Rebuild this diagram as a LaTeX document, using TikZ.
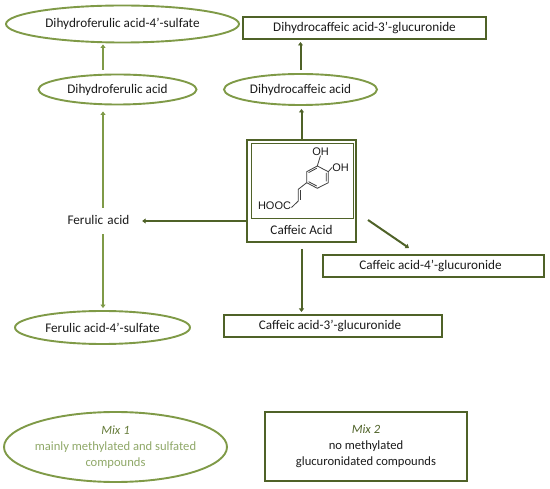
\documentclass[tikz,border=0pt]{standalone}
\usepackage{fontspec}
\setmainfont{Carlito}
\newfontfamily\chemfont{Liberation Sans}
\usetikzlibrary{shapes.geometric,arrows.meta,positioning}
\definecolor{lgreen}{HTML}{7F9A47}
\definecolor{dgreen}{HTML}{4F6228}
\definecolor{ltext}{HTML}{8FA868}
\definecolor{ink}{HTML}{1A1A1A}
\tikzset{
  every node/.style={font=\fontsize{13.2}{16}\selectfont,text=ink,inner sep=0pt,align=center},
  mixtext/.style={font=\fontsize{12.6}{16}\selectfont},
  lell/.style={draw=lgreen,line width=1.9pt,ellipse},
  dbox/.style={draw=dgreen,line width=2pt,rectangle},
  larr/.style={draw=lgreen,line width=2pt,-{Triangle[width=5pt,length=3.5pt]}},
  darr/.style={draw=dgreen,line width=2pt,-{Triangle[width=5pt,length=3.5pt]}},
  bond/.style={draw=ink!85,line width=.8pt},
  chem/.style={font=\fontsize{11}{11}\selectfont\chemfont,text=ink}
}
\begin{document}
\begin{tikzpicture}[x=1pt,y=-1pt]
\useasboundingbox (0,0) rectangle (550,489);
\node[lell,minimum width=233pt,minimum height=37pt] (dfs) at (122.5,24) {Dihydroferulic acid-4’-sulfate};
\node[lell,minimum width=158pt,minimum height=30pt] (dfa) at (117.5,89.5) {Dihydroferulic acid};
\node[lell,minimum width=153pt,minimum height=31pt] (dca) at (300.5,89.5) {Dihydrocaffeic acid};
\node[dbox,minimum width=243pt,minimum height=22pt] (dcg) at (364.5,28) {Dihydrocaffeic acid-3’-glucuronide};
\node[dbox,minimum width=109pt,minimum height=102pt] (ca) at (301.5,191) {};
\node[draw=dgreen,line width=.8pt,minimum width=102pt,minimum height=75pt] (inner) at (302,180.5) {};
\node (calabel) at (301.5,230) {Caffeic Acid};
\node[minimum width=78pt,minimum height=26pt,text width=78pt,align=left] (fa) at (103,221) {\hspace*{3.5pt}\raisebox{3pt}{Ferulic acid}};
\node[lell,minimum width=175pt,minimum height=33pt] (fas) at (102.5,327.5) {Ferulic acid-4’-sulfate};
\node[dbox,minimum width=221pt,minimum height=22pt] (c4g) at (433.5,266) {\hspace*{-6pt}Caffeic acid-4’-glucuronide};
\node[dbox,minimum width=218pt,minimum height=22pt] (c3g) at (333,326) {\hspace*{-6pt}Caffeic acid-3’-glucuronide};
\node[lell,minimum width=223pt,minimum height=70pt] (mix1) at (115.5,447) {};
\node[mixtext,text=ltext] (mix1t) at (mix1) {\textit{\textcolor{lgreen!80!black}{Mix 1}}\\mainly methylated and sulfated\\compounds};
\node[dbox,mixtext,minimum width=202pt,minimum height=69pt] (mix2) at (366,446.5) {\textit{\textcolor{dgreen}{Mix 2}}\\no methylated\\glucuronidated compounds};
% connectors
\draw[larr,shorten >=1pt] (fa |- dfa.north) ++(0,-4) -- (fa |- dfs.south);
\draw[larr,shorten >=6pt] (fa.north) -- (fa |- dfa.south);
\draw[larr,shorten >=2pt] (fa.south) -- (fa |- fas.north);
\draw[darr,shorten >=2pt] (dca.north) ++(0,-3) -- (dca |- dcg.south);
\draw[darr,shorten >=3pt] (ca.north) -- (ca |- dca.south);
\draw[darr] (ca.west |- fa) -- (fa.east);
\draw[darr,shorten <=6pt,shorten >=2pt] (ca.south) -- (ca |- c3g.north);
\coordinate (c4start) at (368,220);
\coordinate (c4end) at (409,248);
\draw[darr] (c4start) -- (c4end);
% molecule
\coordinate (r1) at (317.3,166);
\coordinate (r2) at (328.3,171.7);
\coordinate (r3) at (328.3,182.7);
\coordinate (r4) at (317.3,188.3);
\coordinate (r5) at (306.7,182.7);
\coordinate (r6) at (306.7,171.7);
\coordinate (c1) at (298.3,189.3);
\coordinate (c2) at (298.3,201);
\coordinate (c3) at (291.5,207.5);
\draw[bond] (r1)--(r2)--(r3)--(r4)--(r5)--(r6)--cycle;
\draw[bond] (316.8,168.2)--(308.6,172.6) (326.2,172.9)--(326.2,181.5) (316.8,186)--(308.6,181.7);
\draw[bond] (r5)--(c1)--(c2)--(c3);
\draw[bond] (300.6,190.3)--(300.6,200.5);
\node[chem] (oh1) at (320.5,151.5) {OH};
\node[chem] (oh2) at (340.5,167.5) {OH};
\node[chem] (hooc) at (274.5,206) {HOOC};
\draw[bond] (r1)--(oh1.south);
\draw[bond] (r2)--(oh2.west);
\end{tikzpicture}
\end{document}
